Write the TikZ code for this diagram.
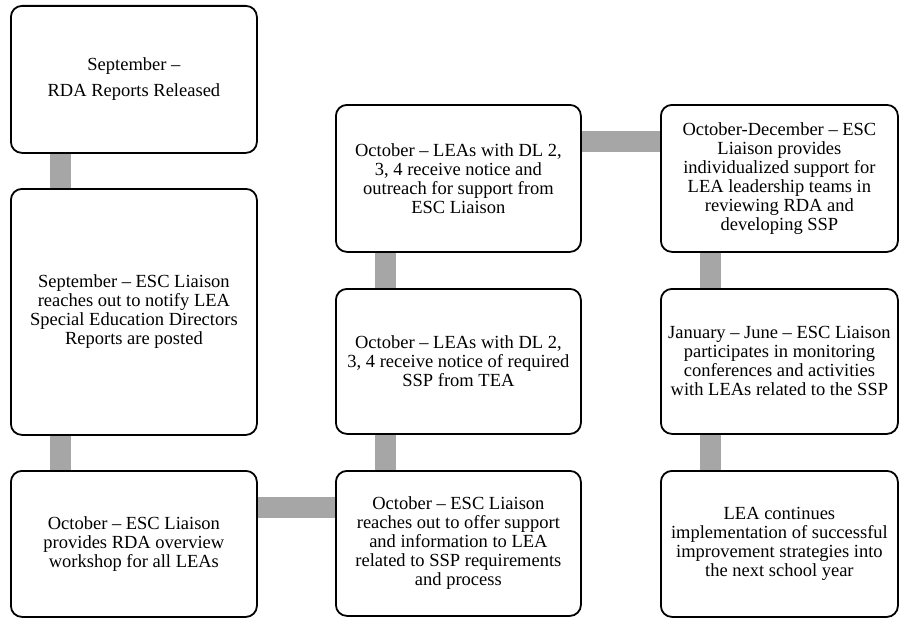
\documentclass[tikz,border=0pt]{standalone}
\usepackage{fontspec}
\setmainfont{Liberation Serif}
\begin{document}
\begin{tikzpicture}[x=1pt,y=-1pt,
  stepbox/.style={draw=black, line width=1.8pt, fill=white, rounded corners=11pt,
    anchor=north west, align=center, inner sep=2pt,
    font=\fontsize{18.5pt}{19pt}\selectfont},
  conn/.style={draw=gray!70, line width=21pt}]
\pgfdeclarelayer{bg}\pgfsetlayers{bg,main}
\useasboundingbox (0,0) rectangle (899,618);
% boxes
\node[stepbox, minimum width=246pt, minimum height=147pt] (b1) at (10,5)
  {September --\\[6.7pt]RDA Reports Released};
\node[stepbox, minimum width=246pt, minimum height=246pt] (b2) at (10,188)
  {September -- ESC Liaison\\reaches out to notify LEA\\Special Education Directors\\Reports are posted};
\node[stepbox, minimum width=246pt, minimum height=146pt] (b3) at (10,470)
  {October -- ESC Liaison\\provides RDA overview\\workshop for all LEAs};
\node[stepbox, minimum width=245pt, minimum height=145pt] (b4) at (335,470)
  {October -- ESC Liaison\\reaches out to offer support\\and information to LEA\\related to SSP requirements\\and process};
\node[stepbox, minimum width=245pt, minimum height=145pt] (b5) at (335,288)
  {October -- LEAs with DL 2,\\3, 4 receive notice of required\\SSP from TEA};
\node[stepbox, minimum width=245pt, minimum height=147pt] (b6) at (335,104)
  {October -- LEAs with DL 2,\\3, 4 receive notice and\\outreach for support from\\ESC Liaison};
\node[stepbox, minimum width=237pt, minimum height=147pt] (b7) at (660,104)
  {October-December -- ESC\\Liaison provides\\individualized support for\\LEA leadership teams in\\reviewing RDA and\\developing SSP};
\node[stepbox, minimum width=237pt, minimum height=145pt] (b8) at (660,288)
  {January -- June -- ESC Liaison\\participates in monitoring\\conferences and activities\\with LEAs related to the SSP};
\node[stepbox, minimum width=237pt, minimum height=146pt] (b9) at (660,470)
  {LEA continues\\implementation of successful\\improvement strategies into\\the next school year};
% connectors (behind boxes)
\begin{pgfonlayer}{bg}
\draw[conn] ([xshift=50pt]b1.south west) -- ([xshift=50pt]b2.north west);
\draw[conn] ([xshift=50pt]b2.south west) -- ([xshift=50pt]b3.north west);
\draw[conn] ([yshift=-37pt]b3.north east) -- ([yshift=-37pt]b4.north west);
\draw[conn] ([xshift=50pt]b4.north west) -- ([xshift=50pt]b5.south west);
\draw[conn] ([xshift=50pt]b5.north west) -- ([xshift=50pt]b6.south west);
\draw[conn] ([yshift=-37pt]b6.north east) -- ([yshift=-37pt]b7.north west);
\draw[conn] ([xshift=50pt]b7.south west) -- ([xshift=50pt]b8.north west);
\draw[conn] ([xshift=50pt]b8.south west) -- ([xshift=50pt]b9.north west);
\end{pgfonlayer}
\end{tikzpicture}
\end{document}
